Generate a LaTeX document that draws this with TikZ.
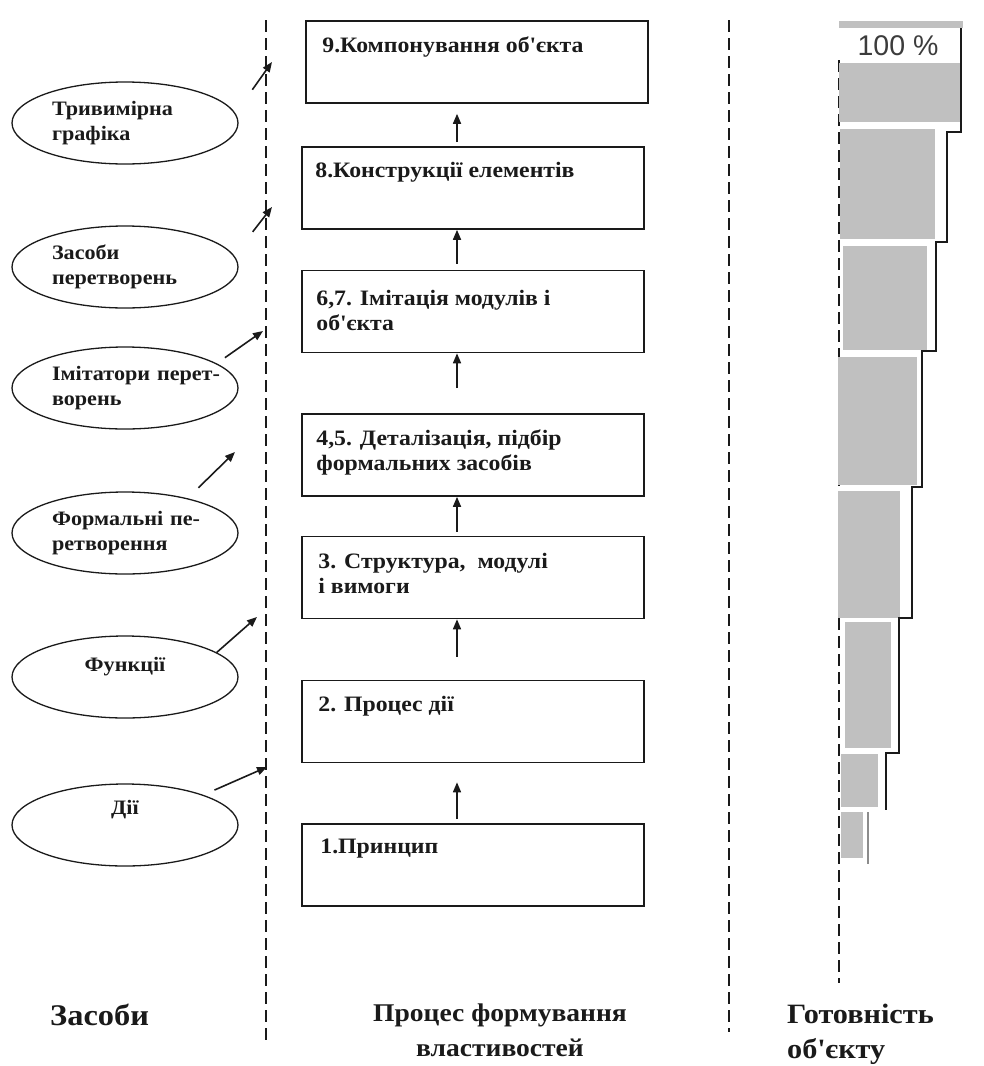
\documentclass[tikz,border=0pt]{standalone}
\usepackage{fontspec}
\setmainfont{Liberation Serif}[FakeStretch=1.08]
\setsansfont{Liberation Sans}
\usetikzlibrary{positioning,arrows.meta,shapes.geometric}
\definecolor{ink}{HTML}{1A1A1A}
\definecolor{bar}{HTML}{C0C0C0}
\definecolor{barln}{HTML}{8C8C8C}
\newcommand{\ap}{\textquotesingle}
\tikzset{
  box/.style ={draw=ink, line width=1.6pt, minimum width=342pt, minimum height=82pt, inner sep=0pt},
  btxt/.style={font=\bfseries\fontsize{22}{25}\selectfont, color=ink, align=left, inner sep=0pt},
  ell/.style ={ellipse, draw=ink, line width=1.3pt, minimum width=226pt, minimum height=82pt, inner sep=0pt,
               text width=146pt, align=left, font=\bfseries\fontsize{20.5}{25}\selectfont, color=ink},
  ellc/.style={ell, align=center},
  ln/.style  ={draw=ink, line width=1.6pt, -{Triangle[length=10pt,width=8pt]}},
  sep/.style ={draw=ink, line width=1.6pt, dash pattern=on 12pt off 6pt},
  ttl/.style ={font=\bfseries\fontsize{28}{35}\selectfont, color=ink, inner sep=0pt},
  pct/.style ={font=\sffamily\fontsize{28.5}{30}\selectfont, color=ink!85, inner sep=0pt},
}

\begin{document}
\begin{tikzpicture}[x=1pt,y=-1pt]
    \useasboundingbox (0,0) rectangle (984,1066);

    % separators
    \draw[sep] (266,20) -- (266,1042);
    \draw[sep] (729,20) -- (729,1032);

    % process column
    \node[box] (p9)  at (477,62)    {};
    \node[box] (p8)  at (473,188)   {};
    \node[box] (p67) at (473,311.5) {};
    \node[box] (p45) at (473,455)   {};
    \node[box] (p3)  at (473,577.5) {};
    \node[box] (p2)  at (473,721.5) {};
    \node[box] (p1)  at (473,865)   {};

    \node[btxt,below right=16pt and 17pt of p9.north west]  (t9)  {9.Компонування об\ap єкта};
    \node[btxt,below right=16pt and 14pt of p8.north west]  (t8)  {8.Конструкції елементів};
    \node[btxt,below right=20pt and 15pt of p67.north west] (t67) {6,7. Імітація модулів і\\об\ap єкта};
    \node[btxt,below right=16pt and 15pt of p45.north west] (t45) {4,5. Деталізація, підбір\\формальних засобів};
    \node[btxt,below right=17pt and 17pt of p3.north west]  (t3)  {3. Структура, \ модулі\\і вимоги};
    \node[btxt,below right=16pt and 17pt of p2.north west]  (t2)  {2. Процес дії};
    \node[btxt,below right=16pt and 19pt of p1.north west]  (t1)  {1.Принцип};

    \coordinate (col) at (457,0);
    \draw[ln,shorten <=4pt,shorten >=10pt] (p8.north -| col)  -- (p9.south -| col);
    \draw[ln,shorten <=6pt]                (p67.north -| col) -- (p8.south -| col);
    \draw[ln,shorten <=25pt]               (p45.north -| col) -- (p67.south -| col);
    \draw[ln,shorten <=4pt]                (p3.north -| col)  -- (p45.south -| col);
    \draw[ln,shorten <=23pt]               (p2.north -| col)  -- (p3.south -| col);
    \draw[ln,shorten <=4pt,shorten >=19pt] (p1.north -| col)  -- (p2.south -| col);

    % means
    \node[ell]  (e1) at (125,123) {\mbox{Тривимірна}\\\mbox{графіка}};
    \node[ell]  (e2) at (125,267) {\mbox{Засоби}\\\mbox{перетворень}};
    \node[ell]  (e3) at (125,388) {\mbox{Імітатори перет-}\\\mbox{ворень}};
    \node[ell]  (e4) at (125,533) {\mbox{Формальні пе-}\\\mbox{ретворення}};
    \node[ellc] (e5) at (125,677) {Функції\hspace*{6pt}\\\mbox{}};
    \node[ellc] (e6) at (125,825) {Дії\hspace*{14pt}\\[10pt]\mbox{}};

    \coordinate (h1) at (272,62);
    \coordinate (h2) at (272,207);
    \coordinate (h3) at (263,331);
    \coordinate (h4) at (235,452);
    \coordinate (h5) at (257,617);
    \coordinate (h6) at (267,767);
    \draw[ln,shorten <=29pt] (e1.5)  -- (h1);
    \draw[ln,shorten <=30pt] (e2.6)  -- (h2);
    \draw[ln,shorten <=10pt] (e3.15) -- (h3);
    \draw[ln,shorten <=15pt] (e4.29) -- (h4);
    \draw[ln]                (e5.15) -- (h5);
    \draw[ln,shorten <=12pt] (e6.21) -- (h6);

    % readiness
    \draw[sep] (839,60) -- (839,983);
    \fill[bar] (839,21)  rectangle (963,28);
    \fill[bar] (839,63)  rectangle (961,122);
    \fill[bar] (840,129) rectangle (935,239);
    \fill[bar] (843,246) rectangle (927,350);
    \fill[bar] (838,357) rectangle (917,485);
    \fill[bar] (838,491) rectangle (900,618);
    \fill[bar] (845,622) rectangle (891,748);
    \fill[bar] (841,754) rectangle (878,807);
    \fill[bar] (841,812) rectangle (863,858);
    \draw[barln,line width=2.5pt] (868,812) -- (868,864);
    \draw[ink,line width=1.6pt] (961,28) -- (961,132) -- (947,132) -- (947,242) -- (936,242)
      -- (936,351) -- (922,351) -- (922,487) -- (912,487) -- (912,618) -- (899,618)
      -- (899,753) -- (886,753) -- (886,810);
    \node[pct] (pc) at (898,46) {100 \%};

    % column titles
    \node[ttl,anchor=north west,font=\bfseries\fontsize{30}{35}\selectfont] (tz) at (50,1004) {Засоби};
    \node[ttl,anchor=north,align=center,font=\bfseries\fontsize{25.5}{35}\selectfont] (tp) at (500,1004) {Процес формування\\властивостей};
    \node[ttl,anchor=north west,align=left] (tg) at (787,1004) {Готовність\\об\ap єкту};
\end{tikzpicture}
\end{document}
